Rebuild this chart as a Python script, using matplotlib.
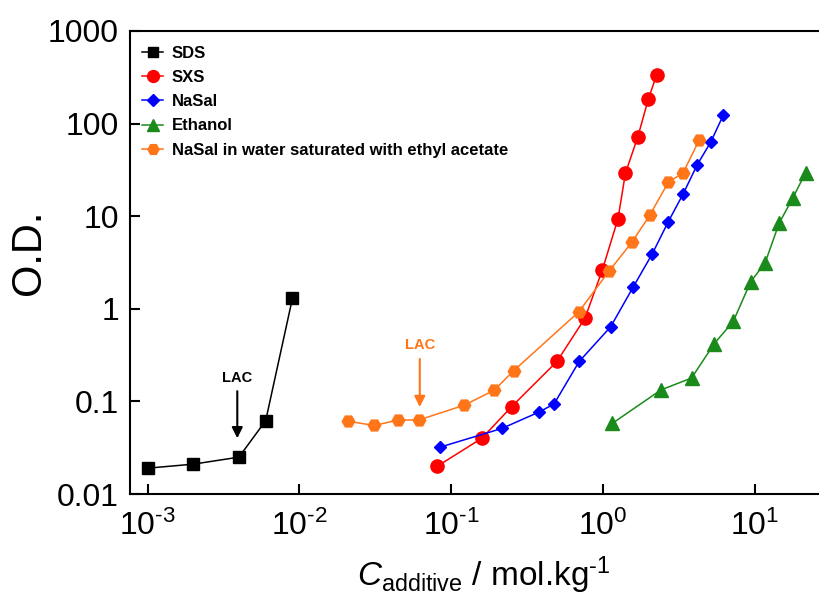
import matplotlib
matplotlib.use("Agg")
import matplotlib.pyplot as plt
import numpy as np

plt.rcParams['font.family'] = ['Liberation Sans', 'DejaVu Sans']
plt.rcParams['mathtext.fontset'] = 'custom'
plt.rcParams['mathtext.rm'] = 'Liberation Sans'
plt.rcParams['mathtext.it'] = 'Liberation Sans:italic'
plt.rcParams['mathtext.bf'] = 'Liberation Sans:bold'

# Optical density vs additive concentration (mol/kg)
sds_x = [0.001, 0.002, 0.004, 0.006, 0.009]
sds_y = [0.019, 0.021, 0.025, 0.062, 1.3]

sxs_x = [0.081, 0.159, 0.25, 0.496, 0.758, 0.985, 1.25, 1.40, 1.69, 1.98, 2.25]
sxs_y = [0.020, 0.040, 0.088, 0.27, 0.79, 2.6, 9.3, 29, 72, 183, 337]

nasal_x = [0.084, 0.215, 0.38, 0.475, 0.695, 1.12, 1.57, 2.10, 2.68, 3.36, 4.16, 5.10, 6.17]
nasal_y = [0.032, 0.051, 0.077, 0.094, 0.27, 0.64, 1.7, 3.9, 8.7, 17.4, 36, 63, 123]

ethanol_x = [1.15, 2.40, 3.82, 5.38, 7.18, 9.34, 11.65, 14.4, 17.7, 21.5]
ethanol_y = [0.058, 0.133, 0.179, 0.42, 0.73, 1.95, 3.15, 8.4, 15.7, 29.5]

nasal_ea_x = [0.0209, 0.0311, 0.0449, 0.0612, 0.1216, 0.1915, 0.258, 0.692,
              1.09, 1.54, 2.03, 2.68, 3.36, 4.29]
nasal_ea_y = [0.061, 0.055, 0.063, 0.063, 0.091, 0.132, 0.215, 0.93,
              2.54, 5.2, 10.3, 23.2, 29.5, 66.5]

x_ticks = [1e-3, 1e-2, 1e-1, 1e0, 1e1]
x_tick_labels = [r'$\mathregular{10^{\text{-3}}}$', r'$\mathregular{10^{\text{-2}}}$',
                 r'$\mathregular{10^{\text{-1}}}$', r'$\mathregular{10^{0}}$',
                 r'$\mathregular{10^{1}}$']
y_ticks = [0.01, 0.1, 1, 10, 100, 1000]
y_tick_labels = ['0.01', '0.1', '1', '10', '100', '1000']

W, H = 819, 597
fig = plt.figure(figsize=(W / 100, H / 100), dpi=100)
left_px, right_px, bottom_px, top_px = 130, 826, 494, 31
ax = fig.add_axes([left_px / W, (H - bottom_px) / H,
                   (right_px - left_px) / W, (bottom_px - top_px) / H])

decade_px = 151.9
xlog_min = -3 - (147.5 - left_px) / decade_px
xlog_max = xlog_min + (right_px - left_px) / decade_px

ax.set_xscale('log')
ax.set_yscale('log')
ax.set_xlim(10 ** xlog_min, 10 ** xlog_max)
ax.set_ylim(0.01, 1000)

lw = 1.1
ax.plot(sds_x, sds_y, '-s', color='black', lw=lw, ms=8.5, label='SDS')
ax.plot(sxs_x, sxs_y, '-o', color='#ff0000', lw=lw, ms=9.5, label='SXS')
ax.plot(nasal_x, nasal_y, '-D', color='#0000ff', lw=lw, ms=6.5, label='NaSal')
ax.plot(ethanol_x, ethanol_y, '-^', color='#1a8a1a', lw=lw, ms=10, label='Ethanol')
ax.plot(nasal_ea_x, nasal_ea_y, '-H', color='#ff7518', lw=lw, ms=9,
        label='NaSal in water saturated with ethyl acetate')

# LAC markers
ax.text(0.0039, 0.18, 'LAC', ha='center', va='center', fontsize=10.5,
        fontweight='bold', color='black')
ax.annotate('', xy=(0.0039, 0.040), xytext=(0.0039, 0.129),
            arrowprops=dict(arrowstyle='-|>', color='black', lw=1.5,
                            mutation_scale=16, shrinkA=0, shrinkB=0))
ax.text(0.062, 0.41, 'LAC', ha='center', va='center', fontsize=10.5,
        fontweight='bold', color='#ff7518')
ax.annotate('', xy=(0.062, 0.087), xytext=(0.062, 0.287),
            arrowprops=dict(arrowstyle='-|>', color='#ff7518', lw=1.5,
                            mutation_scale=16, shrinkA=0, shrinkB=0))

ax.set_xticks(x_ticks)
ax.set_xticklabels(x_tick_labels)
ax.set_yticks(y_ticks)
ax.set_yticklabels(y_tick_labels)
ax.minorticks_off()
ax.tick_params(axis='both', which='major', direction='in', length=7, width=1.5,
               labelsize=23, pad=8)
ax.tick_params(axis='x', pad=12)

for sp in ax.spines.values():
    sp.set_linewidth(1.5)

ax.set_ylabel('O.D.', fontsize=30)
ax.yaxis.set_label_coords((29 - left_px) / (right_px - left_px),
                          (bottom_px - 252) / (bottom_px - top_px))
ax.set_xlabel(r'$\mathit{C}_{\text{additive}}\text{ / mol.kg}^{\text{-1}}$',
              fontsize=24)
ax.xaxis.set_label_coords((484 - left_px) / (right_px - left_px),
                          -(575 - bottom_px) / (bottom_px - top_px))
ax.xaxis.label.set_va('center')
ax.yaxis.label.set_va('center')

leg = ax.legend(loc='upper left', bbox_to_anchor=(0.0, 0.993), frameon=False,
                prop={'weight': 'bold', 'size': 12}, handlelength=1.3,
                handletextpad=0.5, labelspacing=0.55, borderaxespad=0.3,
                markerscale=0.9)

fig.savefig('out.png', dpi=100)
